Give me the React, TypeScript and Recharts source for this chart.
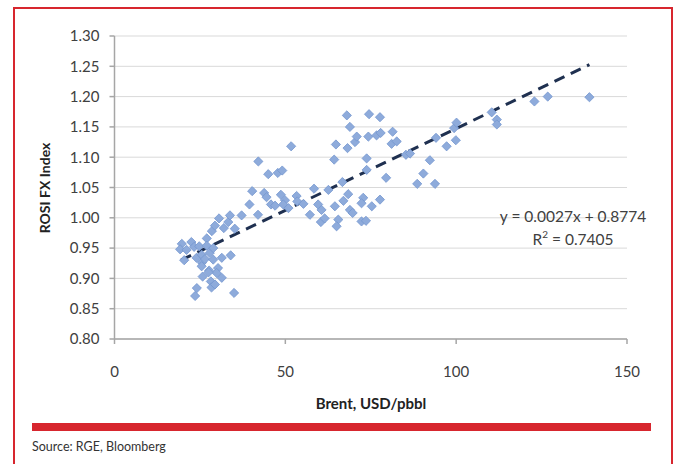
import { CartesianGrid, ReferenceLine, Scatter, ScatterChart, XAxis, YAxis } from "recharts";

const FONT = "Lato, 'Open Sans', sans-serif";
const RED = "#d7262e";
const TEXT = "#404040";
const GRID = "#d9d9d9";
const AXIS = "#a6a6a6";

// Brent (USD/bbl) vs ROSI FX index
const brent = [
  19.7, 19.2, 22.5, 21.1, 23.3, 24.8, 27, 27, 20.4, 24, 25.5, 27.9, 28.9, 25.6, 26.5, 28.9, 31.4, 34,
  25.5, 27.7, 30.3, 29.9, 25.8, 27.5, 28.2, 31.4, 24.1, 28.4, 29.4, 23.6, 35, 28.5, 29.4, 30.6, 32,
  33.3, 33.8, 35.2, 37.2,
  39.5, 42, 40.3, 42.1, 45, 47.8, 49.1, 43.8, 44.5, 45.8, 47, 48.7, 49.9, 49.4, 50.9, 51.7, 53.3,
  53.5, 55.3, 58.4, 57.2, 59.6, 60.6, 60.4, 61.5, 62.6, 64.8, 68.2, 70.4, 64.3, 66.7, 68.4, 67,
  72.8, 72.3, 77.7, 75.3, 64.5, 68.9, 69.7, 65.5, 65, 72.3, 73.6, 68, 74.5, 77.7, 68.9, 70.9, 74.3,
  76.7, 77.9, 81.4, 81.1, 82.6, 85.3, 73.8, 73.8, 79.5,
  86.5, 88.6, 90.4, 92.3, 93.8, 94.1, 97.2, 99.9, 99.4, 100.1, 110.4, 111.9, 111.9, 122.9, 126.8, 139,
];
const rosi = [
  0.957, 0.948, 0.96, 0.947, 0.952, 0.953, 0.966, 0.954, 0.93, 0.934, 0.939, 0.942, 0.95, 0.926,
  0.932, 0.931, 0.934, 0.938, 0.92, 0.913, 0.917, 0.909, 0.903, 0.91, 0.895, 0.901, 0.884, 0.885,
  0.89, 0.871, 0.876, 0.978, 0.987, 0.999, 0.983, 0.993, 1.004, 0.982, 1.004,
  1.022, 1.005, 1.044, 1.093, 1.072, 1.074, 1.078, 1.041, 1.034, 1.022, 1.02, 1.038, 1.029, 1.022,
  1.016, 1.118, 1.036, 1.027, 1.023, 1.048, 1.005, 1.022, 1.013, 0.993, 0.999, 1.046, 1.121, 1.115,
  1.125, 1.096, 1.059, 1.039, 1.028, 1.033, 1.024, 1.03, 1.019, 1.019, 1.013, 1.008, 0.997, 0.986,
  0.994, 0.995, 1.169, 1.171, 1.166, 1.15, 1.134, 1.134, 1.136, 1.14, 1.142, 1.122, 1.126, 1.104,
  1.098, 1.079, 1.066,
  1.106, 1.056, 1.073, 1.095, 1.056, 1.132, 1.118, 1.128, 1.148, 1.157, 1.174, 1.162, 1.154, 1.192,
  1.2, 1.199,
];

const xTicks = [0, 50, 100, 150];
const yTicks = [0.8, 0.85, 0.9, 0.95, 1.0, 1.05, 1.1, 1.15, 1.2, 1.25, 1.3];

// linear trend as printed on the chart
const SLOPE = 0.0027;
const INTERCEPT = 0.8774;
const trendX = [19.5, 139];

const points = brent.map((x, i) => ({ x, y: rosi[i] }));

function Diamond(p: any) {
  const { cx, cy } = p;
  const r = 4.6;
  return (
    <path
      d={`M${cx},${cy - r}L${cx + r},${cy}L${cx},${cy + r}L${cx - r},${cy}Z`}
      fill="#8eabdb"
      stroke="#7597cf"
      strokeWidth={0.8}
    />
  );
}

export default function App() {
  return (
    <div style={{ position: "absolute", left: 0, top: 0, width: 677, height: 464, background: "#fff", overflow: "hidden", fontFamily: FONT }}>
      <div style={{ position: "absolute", left: 13, top: 7, width: 656, height: 480, border: `2.5px solid ${RED}` }} />
      <ScatterChart width={677} height={464} margin={{ top: 36, right: 50, bottom: 85, left: 60 }} style={{ position: "absolute", left: 0, top: 0 }}>
        <CartesianGrid stroke={GRID} vertical={false} />
        <XAxis
          type="number"
          dataKey="x"
          domain={[0, 150]}
          ticks={xTicks}
          height={40}
          stroke={AXIS}
          strokeWidth={1.5}
          tickSize={5}
          tickMargin={22}
          tick={{ fill: TEXT, fontSize: 15, fontFamily: FONT }}
        />
        <YAxis
          type="number"
          dataKey="y"
          domain={[0.8, 1.3]}
          ticks={yTicks}
          width={54.5}
          stroke={AXIS}
          strokeWidth={1.5}
          tickSize={5}
          tickMargin={10}
          tickFormatter={(v) => Number(v).toFixed(2)}
          tick={{ fill: TEXT, fontSize: 15, fontFamily: FONT }}
        />
        <Scatter data={points} shape={<Diamond />} isAnimationActive={false} />
        <ReferenceLine
          segment={trendX.map((x) => ({ x, y: SLOPE * x + INTERCEPT }))}
          stroke="#1f3050"
          strokeWidth={3}
          strokeDasharray="11 7"
        />
      </ScatterChart>
      <div style={{ position: "absolute", left: 44, top: 188, transform: "translate(-50%,-50%) rotate(-90deg)", whiteSpace: "nowrap", fontWeight: 700, fontSize: 14, color: "#222" }}>
        ROSI FX Index
      </div>
      <div style={{ position: "absolute", left: 371, top: 403, transform: "translate(-50%,-50%)", whiteSpace: "nowrap", fontWeight: 700, fontSize: 15, color: "#222" }}>
        Brent, USD/pbbl
      </div>
      <div style={{ position: "absolute", left: 573, top: 216, transform: "translate(-50%,-50%)", whiteSpace: "nowrap", fontSize: 15.5, color: TEXT }}>
        y = 0.0027x + 0.8774
      </div>
      <div style={{ position: "absolute", left: 573, top: 238, transform: "translate(-50%,-50%)", whiteSpace: "nowrap", fontSize: 15.5, color: TEXT }}>
        R<sup style={{ fontSize: 10 }}>2</sup> = 0.7405
      </div>
      <div style={{ position: "absolute", left: 32, top: 423, width: 619, height: 8, background: RED }} />
      <div style={{ position: "absolute", left: 32, top: 446, transform: "translateY(-50%)", whiteSpace: "nowrap", fontSize: 12.5, color: "#333" }}>
        Source: RGE, Bloomberg
      </div>
    </div>
  );
}
